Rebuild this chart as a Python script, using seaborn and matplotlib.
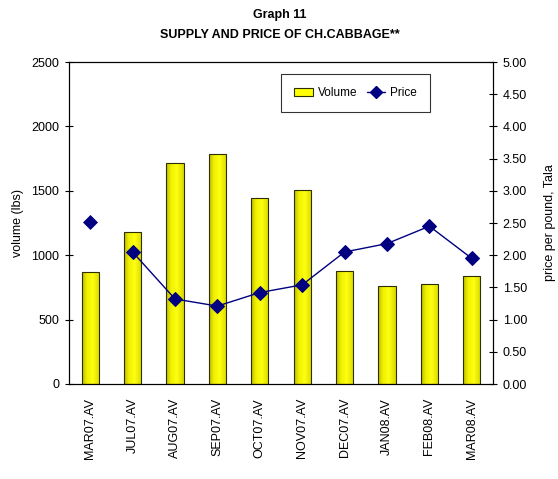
import matplotlib
matplotlib.use("Agg")
import matplotlib.pyplot as plt
from matplotlib.lines import Line2D
from matplotlib.patches import Patch
from matplotlib.colors import LinearSegmentedColormap
import seaborn as sns
import pandas as pd
import numpy as np

months = ["MAR07.AV", "JUL07.AV", "AUG07.AV", "SEP07.AV", "OCT07.AV",
          "NOV07.AV", "DEC07.AV", "JAN08.AV", "FEB08.AV", "MAR08.AV"]
volume = [867, 1177, 1713, 1786, 1441, 1509, 875, 763, 774, 841]
price = [2.51, 2.05, 1.32, 1.21, 1.42, 1.54, 2.05, 2.18, 2.45, 1.95]
left_ticks = [0, 500, 1000, 1500, 2000, 2500]
right_ticks = [0.0, 0.5, 1.0, 1.5, 2.0, 2.5, 3.0, 3.5, 4.0, 4.5, 5.0]

sns.set_style("white")
plt.rcParams['font.family'] = ['Liberation Sans Narrow', 'Liberation Sans', 'DejaVu Sans']
plt.rcParams['text.color'] = 'black'
plt.rcParams['axes.labelcolor'] = 'black'
plt.rcParams['xtick.color'] = 'black'
plt.rcParams['ytick.color'] = 'black'

df = pd.DataFrame({"month": months, "volume": volume, "price": price})
df["pos"] = np.arange(len(months))

fig = plt.figure(figsize=(5.58, 4.79), dpi=100)
ax = fig.add_axes([69/558, 1-384/479, (493-69)/558, (384-62)/479])

sns.barplot(data=df, x="month", y="volume", ax=ax, color="#FFFF00",
            width=0.41, edgecolor="#2e2e00", linewidth=0.8, saturation=1)
ax.set_xlim(-0.5, len(months)-0.5)
ax.set_ylim(0, 2500)

# gradient fill inside bars
cmap = LinearSegmentedColormap.from_list(
    "yg", [(0.0, "#B8B800"), (0.25, "#EEEE00"), (0.6, "#FFFF10"), (1.0, "#D8D800")])
grad = np.linspace(0, 1, 64).reshape(1, -1)
for p in list(ax.patches):
    x0, y0 = p.get_x(), p.get_y()
    w, h = p.get_width(), p.get_height()
    im = ax.imshow(grad, cmap=cmap, extent=[x0, x0 + w, y0, y0 + h],
                   aspect="auto", zorder=p.get_zorder() + 0.1, interpolation="bilinear")
    im.set_clip_path(p)
    p.set_facecolor("none")
    p.set_zorder(p.get_zorder() + 0.2)
ax.set_xlim(-0.5, len(months)-0.5)
ax.set_ylim(0, 2500)

ax.set_yticks(left_ticks)
ax.set_xticks(range(len(months)))
ax.set_xticklabels(months, rotation=90, fontsize=9)
ax.set_xticks(np.arange(-0.5, len(months), 1.0), minor=True)
ax.tick_params(axis='x', which='major', length=0, pad=10)
ax.tick_params(axis='x', which='minor', length=6, direction='inout', width=0.8)
ax.tick_params(axis='y', length=6, direction='inout', width=0.8, labelsize=9, pad=4)
ax.set_xlabel("")
ax.set_ylabel("volume (lbs)", fontsize=9)
ax.yaxis.set_label_coords((24 - 69) / 424, 0.5)
for s in ax.spines.values():
    s.set_color("black")
    s.set_linewidth(0.8)

ax2 = ax.twinx()
sns.lineplot(data=df.iloc[1:], x="pos", y="price", ax=ax2, color="#000080",
             linewidth=1.0, marker="D", markersize=7, markeredgecolor="#000080")
sns.scatterplot(data=df.iloc[:1], x="pos", y="price", ax=ax2, color="#000080",
                marker="D", s=50, edgecolor="#000080")
ax2.set_ylim(0, 5)
ax2.set_yticks(right_ticks)
ax2.set_yticklabels([f"{v:.2f}" for v in right_ticks])
ax2.tick_params(axis='y', length=6, direction='inout', width=0.8, labelsize=9, pad=4)
ax2.set_xlim(-0.5, len(months)-0.5)
ax2.set_xlabel("")
ax2.set_ylabel("price per pound, Tala", fontsize=9)
ax2.yaxis.set_label_coords((544 - 69) / 424, 0.5)
for s in ax2.spines.values():
    s.set_color("black")
    s.set_linewidth(0.8)

handles = [Patch(facecolor="#FFFF00", edgecolor="#2e2e00", linewidth=0.8),
           Line2D([0], [0], color="#000080", marker="D", markersize=6, linewidth=1.0)]
leg = fig.legend(handles, ["Volume", "Price"], loc="upper left",
                 bbox_to_anchor=(281/558, 1-74/479), ncol=2, fontsize=8.5,
                 frameon=True, fancybox=False, edgecolor="black",
                 handlelength=1.6, handletextpad=0.4, columnspacing=0.8,
                 borderpad=1.1, borderaxespad=0)
leg.get_frame().set_linewidth(0.8)

fig.text(280/558, 1-15/479, "Graph 11", ha="center", va="center",
         fontsize=9, fontweight="bold")
fig.text(280/558, 1-35/479, "SUPPLY AND PRICE OF CH.CABBAGE**", ha="center",
         va="center", fontsize=9, fontweight="bold")

fig.savefig("out.png", dpi=100)
